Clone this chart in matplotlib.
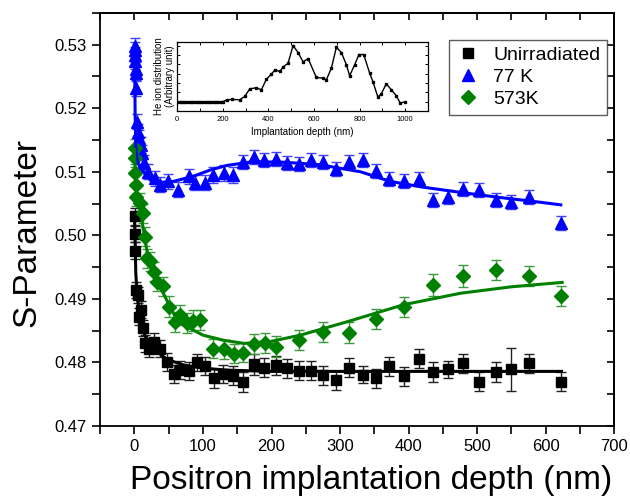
import matplotlib
matplotlib.use("Agg")
import matplotlib.pyplot as plt
from matplotlib.ticker import MultipleLocator, FormatStrFormatter

plt.rcParams['font.family'] = ['Liberation Sans', 'DejaVu Sans']

# S-parameter vs positron depth, unirradiated sample
depth_unirr = [0.5, 1.0, 1.5, 2.5, 4.5, 6, 9.5, 13, 16, 21, 29, 38, 47, 57, 67, 79, 91, 103, 116, 129,
               144, 159, 174, 189, 206, 223, 240, 258, 275, 294, 313, 333, 353, 372, 393, 415, 436, 458,
               480, 503, 527, 550, 575, 623]
s_unirr = [0.5030, 0.5002, 0.4976, 0.4914, 0.4906, 0.4872, 0.4883, 0.4854, 0.4830, 0.4822, 0.4833, 0.4822,
           0.4801, 0.4782, 0.4788, 0.4787, 0.4800, 0.4794, 0.4775, 0.4782, 0.4779, 0.4769, 0.4797, 0.4792,
           0.4796, 0.4791, 0.4787, 0.4787, 0.4780, 0.4772, 0.4792, 0.4781, 0.4775, 0.4794, 0.4778, 0.4806,
           0.4785, 0.4789, 0.4799, 0.4770, 0.4785, 0.4789, 0.4799, 0.4770]
err_unirr = [0.0013, 0.0013, 0.0013, 0.0013, 0.0013, 0.0013, 0.0013, 0.0013, 0.0013, 0.0013, 0.0014, 0.0014,
             0.0014, 0.0014, 0.0014, 0.0014, 0.0014, 0.0014, 0.0015, 0.0014, 0.0015, 0.0016, 0.0016, 0.0015,
             0.0015, 0.0015, 0.0015, 0.0015, 0.0015, 0.0015, 0.0015, 0.0014, 0.0015, 0.0015, 0.0015, 0.0015,
             0.0015, 0.0014, 0.0015, 0.0015, 0.0015, 0.0034, 0.0015, 0.0015]

# 77 K irradiation
depth_77 = [0.3, 0.6, 1.0, 1.5, 2.0, 2.5, 3.0, 4.0, 5.5, 7, 9, 11, 14, 20, 30, 38, 49, 64, 79, 89,
            103, 115, 130, 144, 159, 174, 189, 206, 223, 240, 258, 275, 294, 313, 333, 353, 372, 393,
            415, 436, 458, 480, 503, 527, 550, 575, 623]
s_77 = [0.5298, 0.5292, 0.5284, 0.5274, 0.5261, 0.5255, 0.5232, 0.5179, 0.5163, 0.5153, 0.5142, 0.5130,
        0.5114, 0.5100, 0.5090, 0.5080, 0.5085, 0.5072, 0.5093, 0.5083, 0.5083, 0.5095, 0.5098, 0.5095,
        0.5116, 0.5123, 0.5118, 0.5120, 0.5114, 0.5113, 0.5118, 0.5115, 0.5105, 0.5115, 0.5119, 0.5101,
        0.5089, 0.5086, 0.5089, 0.5056, 0.5060, 0.5073, 0.5071, 0.5056, 0.5053, 0.5060, 0.5020]
err_77 = [0.0013, 0.0012, 0.0012, 0.0012, 0.0012, 0.0012, 0.0012, 0.0012, 0.0012, 0.0012, 0.0012, 0.0012,
          0.0012, 0.0012, 0.0012, 0.0012, 0.0012, 0.0012, 0.0012, 0.0012, 0.0012, 0.0012, 0.0012, 0.0012,
          0.0011, 0.0011, 0.0011, 0.0011, 0.0011, 0.0011, 0.0011, 0.0011, 0.0011, 0.0011, 0.0011, 0.0011,
          0.0011, 0.0011, 0.0011, 0.0011, 0.0011, 0.0011, 0.0011, 0.0011, 0.0011, 0.0011, 0.0011]

# 573 K irradiation
depth_573 = [0.5, 1.0, 1.5, 2.0, 3.0, 8, 13, 16, 18, 23, 28, 33, 42, 51, 59, 67, 77, 86, 96, 115,
             130, 145, 159, 174, 190, 206, 240, 275, 313, 353, 393, 436, 480, 527, 575, 623]
s_573 = [0.5137, 0.5122, 0.5098, 0.5080, 0.5061, 0.5051, 0.5035, 0.4998, 0.4964, 0.4959, 0.4943, 0.4927,
         0.4920, 0.4888, 0.4864, 0.4875, 0.4862, 0.4866, 0.4867, 0.4822, 0.4821, 0.4814, 0.4815, 0.4829,
         0.4831, 0.4825, 0.4835, 0.4848, 0.4847, 0.4868, 0.4887, 0.4922, 0.4936, 0.4946, 0.4936, 0.4905]
err_573 = [0.0015, 0.0015, 0.0015, 0.0015, 0.0015, 0.0015, 0.0015, 0.0015, 0.0015, 0.0015, 0.0015, 0.0015,
           0.0015, 0.0016, 0.0016, 0.0016, 0.0016, 0.0016, 0.0016, 0.0015, 0.0015, 0.0015, 0.0015, 0.0016,
           0.0016, 0.0016, 0.0016, 0.0016, 0.0016, 0.0016, 0.0016, 0.0017, 0.0017, 0.0016, 0.0016, 0.0016]

# fitted curves
fit_depth_unirr = [0, 1, 2, 4, 6, 11, 16, 28, 47, 72, 101, 135, 200, 300, 400, 500, 623]
fit_s_unirr = [0.5030, 0.4990, 0.4940, 0.4905, 0.4888, 0.4856, 0.4841, 0.4822, 0.4805, 0.4796, 0.4791,
               0.4788, 0.4786, 0.4786, 0.4786, 0.4786, 0.4786]
fit_depth_77 = [0, 0.5, 1, 2, 4, 8, 13, 23, 35, 57, 86, 111, 135, 173, 220, 271, 330, 373, 420, 480, 530,
                578, 622]
fit_s_77 = [0.5300, 0.5250, 0.5190, 0.5140, 0.5118, 0.5107, 0.5100, 0.5087, 0.5083, 0.5085, 0.5093,
            0.5103, 0.5110, 0.5116, 0.5115, 0.5111, 0.5100, 0.5085, 0.5076, 0.5067, 0.5060, 0.5054, 0.5048]
fit_depth_573 = [0, 1, 3, 8, 13, 18, 28, 42, 57, 77, 100, 130, 160, 198, 242, 310, 393, 476, 549, 624]
fit_s_573 = [0.5135, 0.5100, 0.5060, 0.5040, 0.5010, 0.4977, 0.4943, 0.4909, 0.4877, 0.4856, 0.4843,
             0.4835, 0.4830, 0.4833, 0.4843, 0.4864, 0.4891, 0.4909, 0.4919, 0.4926]

# He ion distribution (inset)
he_depth = [0, 10, 20, 30, 40, 50, 60, 70, 80, 90, 100, 110, 120, 130, 140, 150, 160, 170, 180, 190, 200,
            216, 238, 274, 296, 318, 347, 369, 391, 413, 428, 450, 464, 486, 508, 530, 552, 574, 610, 639,
            654, 676, 698, 720, 742, 756, 778, 797, 818, 844, 858, 880, 895, 917, 939, 961, 978, 1000]
he_conc = [0, 0, 0, 0, 0, 0, 0, 0, 0, 0, 0, 0, 0, 0, 0, 0, 0, 0, 0, 0, 0,
           0.18, 0.25, 0.21, 0.57, 1.38, 1.49, 1.28, 2.41, 2.94, 3.40, 3.23, 3.72, 4.11, 6.00, 5.25, 4.26,
           4.61, 2.59, 2.52, 2.34, 3.58, 5.82, 5.25, 3.94, 2.77, 3.94, 5.04, 5.04, 3.05, 2.16, 0.50, 0.85,
           1.91, 1.28, 0.64, -0.14, 0]

fig = plt.figure(figsize=(6.3, 4.96), dpi=100)
ax = fig.add_axes([0.159, 0.141, 0.816, 0.833])

blue = '#0000ff'
green = '#008000'

ax.errorbar(depth_unirr, s_unirr, yerr=err_unirr, fmt='none', ecolor='#222222', elinewidth=1, capsize=3.5, zorder=2)
ax.errorbar(depth_77, s_77, yerr=err_77, fmt='none', ecolor='#4040ff', elinewidth=1, capsize=3.5, zorder=2)
ax.errorbar(depth_573, s_573, yerr=err_573, fmt='none', ecolor='#3c9a3c', elinewidth=1, capsize=3.5, zorder=2)

ax.plot(depth_unirr, s_unirr, 's', color='black', ms=7, label='Unirradiated', zorder=3)
ax.plot(depth_77, s_77, '^', color=blue, ms=8.5, label='77 K', zorder=3)
ax.plot(depth_573, s_573, 'D', color=green, ms=7, label='573K', zorder=3)

ax.plot(fit_depth_unirr, fit_s_unirr, '-', color='black', lw=2.2, zorder=4)
ax.plot(fit_depth_77, fit_s_77, '-', color=blue, lw=2.2, zorder=4)
ax.plot(fit_depth_573, fit_s_573, '-', color=green, lw=2.2, zorder=4)

ax.set_xlim(-50, 700)
ax.set_ylim(0.47, 0.535)
ax.xaxis.set_major_locator(MultipleLocator(100))
ax.xaxis.set_minor_locator(MultipleLocator(50))
ax.yaxis.set_major_locator(MultipleLocator(0.01))
ax.yaxis.set_minor_locator(MultipleLocator(0.005))
ax.yaxis.set_major_formatter(FormatStrFormatter('%.2f'))
ax.tick_params(which='both', direction='out', width=1.2, labelsize=12)
ax.tick_params(which='major', length=6)
ax.tick_params(which='minor', length=6)
for s in ax.spines.values():
    s.set_linewidth(1.3)

# mirrored ticks on top and right, pointing inward
top = ax.secondary_xaxis('top')
top.xaxis.set_major_locator(MultipleLocator(100))
top.xaxis.set_minor_locator(MultipleLocator(50))
top.tick_params(which='both', direction='in', length=5, width=1.2, labeltop=False)
right = ax.secondary_yaxis('right')
right.yaxis.set_major_locator(MultipleLocator(0.01))
right.yaxis.set_minor_locator(MultipleLocator(0.005))
right.tick_params(which='both', direction='in', length=5, width=1.2, labelright=False)
top.spines['top'].set_linewidth(1.3)
right.spines['right'].set_linewidth(1.3)

ax.set_xlabel('Positron implantation depth (nm)', fontsize=24)
ax.xaxis.set_label_coords(0.527, -0.095)
ax.set_ylabel('S-Parameter', fontsize=24)
ax.yaxis.set_label_coords(-0.112, 0.468)

leg = ax.legend(loc='upper right', bbox_to_anchor=(0.986, 0.935), fontsize=14, frameon=True,
                fancybox=False, edgecolor='#333333', handlelength=1.2, handletextpad=0.7,
                labelspacing=0.22, borderpad=0.35, borderaxespad=0)
leg.get_frame().set_linewidth(1)

# inset with the He ion distribution
ins = fig.add_axes([0.2814, 0.776, 0.398, 0.1397])
ins.plot(he_depth, he_conc, '-s', color='black', lw=1, ms=2)
ins.set_xlim(0, 1100)
ins.set_ylim(-1, 6.4)
ins.xaxis.set_major_locator(MultipleLocator(200))
ins.xaxis.set_minor_locator(MultipleLocator(100))
ins.yaxis.set_major_locator(MultipleLocator(1))
ins.tick_params(which='both', direction='in', top=True, right=True, labelleft=False, labelsize=5.5,
                length=2.5, width=0.7)
for s in ins.spines.values():
    s.set_linewidth(0.9)
ins.set_xlabel('Implantation depth (nm)', fontsize=7, labelpad=3)
ins.set_ylabel('He ion distribution\n(Arbitrary unit)', fontsize=7, labelpad=2, linespacing=1.1)

fig.savefig('out.png', dpi=100)
